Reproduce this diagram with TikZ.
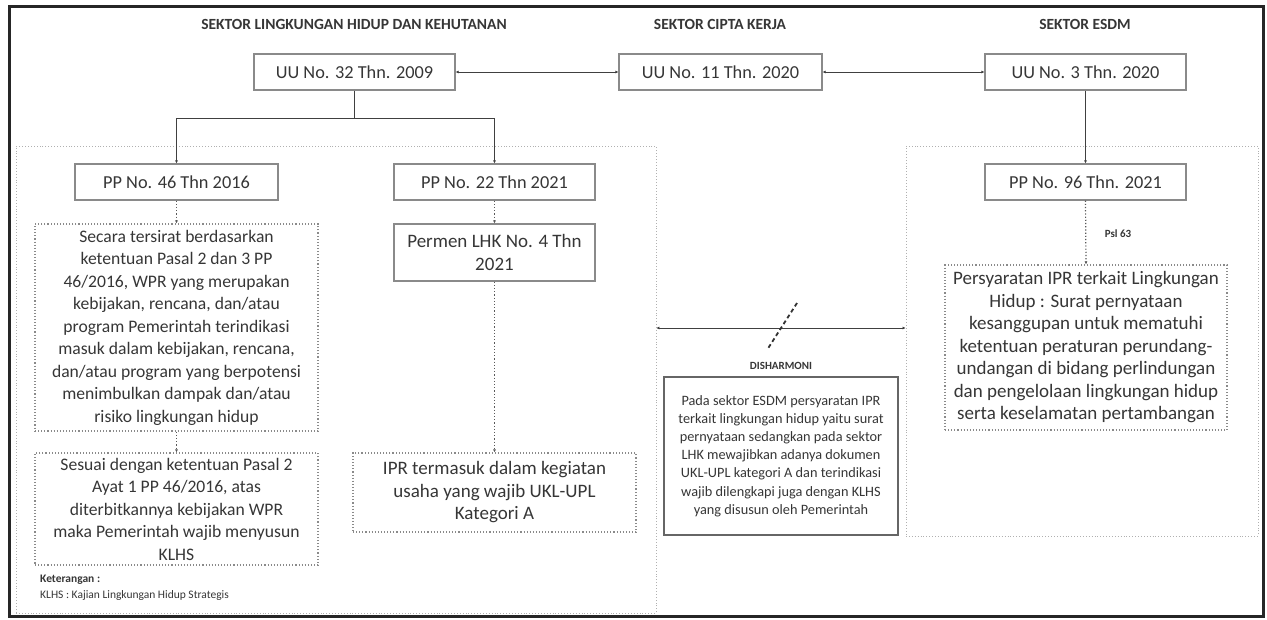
\documentclass[tikz,border=0pt]{standalone}
\usepackage{fontspec}
\setmainfont{Carlito}
\usetikzlibrary{arrows.meta}
\definecolor{txt}{HTML}{363636}
\definecolor{bord}{HTML}{8A8A8A}
\definecolor{dotc}{HTML}{B0B0B0}
\begin{document}
\begin{tikzpicture}[x=1pt,y=-1pt,
  every node/.style={text=txt, inner sep=0pt},
  fs/.style={font=\fontsize{#1}{22.5}\selectfont, align=center},
  solidbox/.style={draw=bord, line width=1.1pt},
  dotbox/.style={draw=bord, dotted, line width=1.1pt},
  bigbox/.style={draw=dotc, dotted, line width=0.9pt},
  titlelab/.style={font=\bfseries\fontsize{15.5}{18}\selectfont},
  smalllab/.style={font=\bfseries\fontsize{11}{13}\selectfont},
  conn/.style={draw=black!75, line width=1pt},
  tipend/.style={-{Latex[length=3pt,width=3pt]}},
  bothtips/.style={{Latex[length=3pt,width=3pt]}-{Latex[length=3pt,width=3pt]}},
  dconn/.style={draw=black!65, dotted, line width=1.2pt}
]
\useasboundingbox (0,0) rectangle (1267,619);
\draw[line width=3pt, black!85] (9,6) rectangle (1263,616);

% sector regions
\node[bigbox, minimum width=640pt, minimum height=467pt] (lhk) at (336,379.5) {};
\node[bigbox, minimum width=352pt, minimum height=390pt] (esdm) at (1082,341) {};

% titles
\node[titlelab] (t1) at (354,24) {SEKTOR LINGKUNGAN HIDUP DAN KEHUTANAN};
\node[titlelab] (t2) at (720,24) {SEKTOR CIPTA KERJA};
\node[titlelab] (t3) at (1085,24) {SEKTOR ESDM};

% top level
\node[solidbox, fs=18.3, minimum width=201pt, minimum height=36pt] (uu32) at (354.5,72) {UU No. 32 Thn. 2009};
\node[solidbox, fs=18.3, minimum width=203pt, minimum height=36pt] (uu11) at (720.5,72) {UU No. 11 Thn. 2020};
\node[solidbox, fs=18.3, minimum width=201pt, minimum height=36pt] (uu3) at (1085.5,72) {UU No. 3 Thn. 2020};

% PP level
\node[solidbox, fs=18.3, minimum width=203pt, minimum height=36pt] (pp46) at (176.5,182) {PP No. 46 Thn 2016};
\node[solidbox, fs=18.3, minimum width=201pt, minimum height=36pt] (pp22) at (494.5,182) {PP No. 22 Thn 2021};
\node[solidbox, fs=18.3, minimum width=201pt, minimum height=36pt] (pp96) at (1085.5,182) {PP No. 96 Thn. 2021};

% details
\node[dotbox, fs=17.6, minimum width=283pt, minimum height=207pt] (secara) at (176.5,327.5)
 {Secara tersirat berdasarkan\\ ketentuan Pasal 2 dan 3 PP\\ 46/2016, WPR yang merupakan\\ kebijakan, rencana, dan/atau\\ program Pemerintah terindikasi\\ masuk dalam kebijakan, rencana,\\ dan/atau program yang berpotensi\\ menimbulkan dampak dan/atau\\ risiko lingkungan hidup};
\node[dotbox, fs=17.6, minimum width=283pt, minimum height=112pt] (sesuai) at (176.5,509)
 {Sesuai dengan ketentuan Pasal 2\\ Ayat 1 PP 46/2016, atas\\ diterbitkannya kebijakan WPR\\ maka Pemerintah wajib menyusun\\ KLHS};
\node[solidbox, fs=19, minimum width=201pt, minimum height=57pt] (permen) at (494.5,252.5)
 {Permen LHK No. 4 Thn\\ 2021};
\node[dotbox, fs=19, minimum width=283pt, minimum height=79pt] (ipr) at (494.5,492.5)
 {IPR termasuk dalam kegiatan\\ usaha yang wajib UKL-UPL\\ Kategori A};
\node[dotbox, fs=19, minimum width=282pt, minimum height=165pt] (syarat) at (1086,347.5)
 {Persyaratan IPR terkait Lingkungan\\ Hidup : Surat pernyataan\\ kesanggupan untuk mematuhi\\ ketentuan peraturan perundang-\\ undangan di bidang perlindungan\\ dan pengelolaan lingkungan hidup\\ serta keselamatan pertambangan};
\node[draw=black!60, line width=1.2pt, align=center, font=\fontsize{14.3}{18.2}\selectfont,
  minimum width=234pt, minimum height=158pt] (dish) at (781,456)
 {Pada sektor ESDM persyaratan IPR\\ terkait lingkungan hidup yaitu surat\\ pernyataan sedangkan pada sektor\\ LHK mewajibkan adanya dokumen\\ UKL-UPL kategori A dan terindikasi\\ wajib dilengkapi juga dengan KLHS\\ yang disusun oleh Pemerintah};

% labels
\node[smalllab] (dlab) at (781,366) {DISHARMONI};
\node[smalllab] (psl) at (1118,234) {Psl 63};
\node[font=\bfseries\fontsize{11.5}{13}\selectfont, anchor=west] (ket1) at (40,580) {Keterangan :};
\node[font=\fontsize{11.5}{13}\selectfont, anchor=west] (ket2) at (40,595) {KLHS : Kajian Lingkungan Hidup Strategis};

% connectors top
\draw[conn, bothtips] (uu32.east) -- (uu11.west);
\draw[conn, bothtips] (uu11.east) -- (uu3.west);
\coordinate (j) at (354.5,118);
\draw[conn] (uu32.south) -- (j);
\draw[conn, tipend] (j) -| (pp46.north);
\draw[conn, tipend] (j) -| (pp22.north);
\draw[conn, tipend] (uu3.south) -- (pp96.north);

% dotted connectors
\draw[dconn, tipend] (pp46.south) -- (secara.north);
\draw[dconn, tipend] (secara.south) -- (sesuai.north);
\draw[dconn, tipend] (pp22.south) -- (permen.north);
\draw[dconn, tipend] (permen.south) -- (ipr.north);
\draw[dconn, tipend] (pp96.south) -- (syarat.north);

% disharmony
\coordinate (dh) at (781,328);
\draw[conn, bothtips] (dh -| lhk.east) -- (dh -| esdm.west);
\draw[black!80, line width=1.8pt, dash pattern=on 4pt off 3pt] (797,303) -- (767,350);
\end{tikzpicture}
\end{document}
